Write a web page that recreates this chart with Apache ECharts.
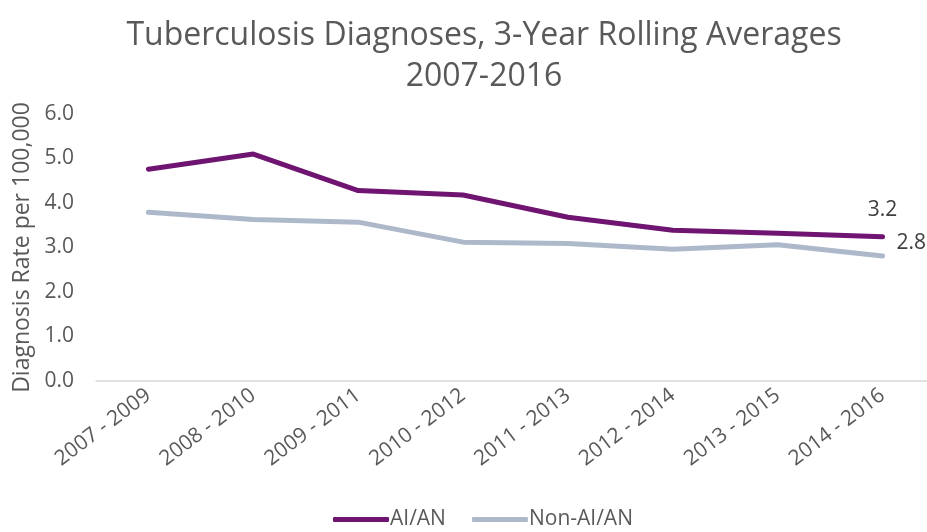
<!DOCTYPE html>
<html>
<head>
<meta charset="utf-8">
<script src="https://cdn.jsdelivr.net/npm/echarts@6/dist/echarts.min.js"></script>
<style>
  html, body { margin: 0; padding: 0; background: #fff; }
  #chart { width: 927px; height: 532px; }
</style>
</head>
<body>
<div id="chart"></div>
<script>
const categories = ['2007 - 2009', '2008 - 2010', '2009 - 2011', '2010 - 2012',
  '2011 - 2013', '2012 - 2014', '2013 - 2015', '2014 - 2016'];
const aian = [4.76, 5.10, 4.28, 4.18, 3.68, 3.39, 3.32, 3.24];
const nonAian = [3.79, 3.63, 3.57, 3.12, 3.09, 2.96, 3.06, 2.81];
const yTicks = [0, 1, 2, 3, 4, 5, 6];

const font = 'Open Sans, Liberation Sans, sans-serif';
const grey = '#595959';

// only the last point gets a value label
const lastLabel = (arr, label) => arr.map((v, i) => i === arr.length - 1
  ? { value: v, label: Object.assign({ show: true, formatter: p => p.value.toFixed(1), color: '#404040', fontSize: 21, fontFamily: font }, label) }
  : v);

const chart = echarts.init(document.getElementById('chart'));

chart.setOption({
  animation: false,
  title: {
    text: 'Tuberculosis Diagnoses, 3-Year Rolling Averages\n2007-2016',
    left: 479,
    textAlign: 'center',
    top: 10,
    textStyle: { fontFamily: font, fontWeight: 'normal', fontSize: 32, color: grey, lineHeight: 41 }
  },
  legend: {
    top: 504,
    left: 328,
    itemWidth: 56,
    itemHeight: 5,
    itemGap: 26,
    icon: 'roundRect',
    textStyle: { fontFamily: font, fontSize: 21, color: grey, padding: [0, 0, 0, -4] },
    data: ['AI/AN', 'Non-AI/AN']
  },
  grid: {
    left: 96,
    top: 114,
    bottom: 151,
    width: 839,
    containLabel: false,
    outerBoundsMode: 'none'
  },
  xAxis: {
    type: 'category',
    data: categories,
    boundaryGap: true,
    axisLine: { lineStyle: { color: '#d9d9d9', width: 1.5 } },
    axisTick: { show: false },
    axisLabel: { rotate: 37, fontFamily: font, fontSize: 21, color: grey, margin: 12, interval: 0 }
  },
  yAxis: {
    type: 'value',
    min: yTicks[0],
    max: yTicks[yTicks.length - 1],
    interval: 1,
    name: 'Diagnosis Rate per 100,000',
    nameLocation: 'middle',
    nameGap: 62,
    nameTextStyle: { fontFamily: font, fontSize: 23, color: grey },
    axisLine: { show: false },
    axisTick: { show: false },
    splitLine: { show: false },
    axisLabel: { fontFamily: font, fontSize: 21, color: grey, margin: 22, formatter: v => v.toFixed(1) }
  },
  series: [
    {
      name: 'AI/AN',
      type: 'line',
      data: lastLabel(aian, { position: 'top', distance: 16 }),
      showSymbol: true,
      symbol: 'circle',
      symbolSize: 0,
      color: '#6f1470',
      lineStyle: { width: 5, cap: 'round', join: 'round' }
    },
    {
      name: 'Non-AI/AN',
      type: 'line',
      data: lastLabel(nonAian, { position: 'right', distance: 14, offset: [0, -13] }),
      showSymbol: true,
      symbol: 'circle',
      symbolSize: 0,
      color: '#adb9ca',
      lineStyle: { width: 5, cap: 'round', join: 'round' }
    }
  ]
});
</script>
</body>
</html>
